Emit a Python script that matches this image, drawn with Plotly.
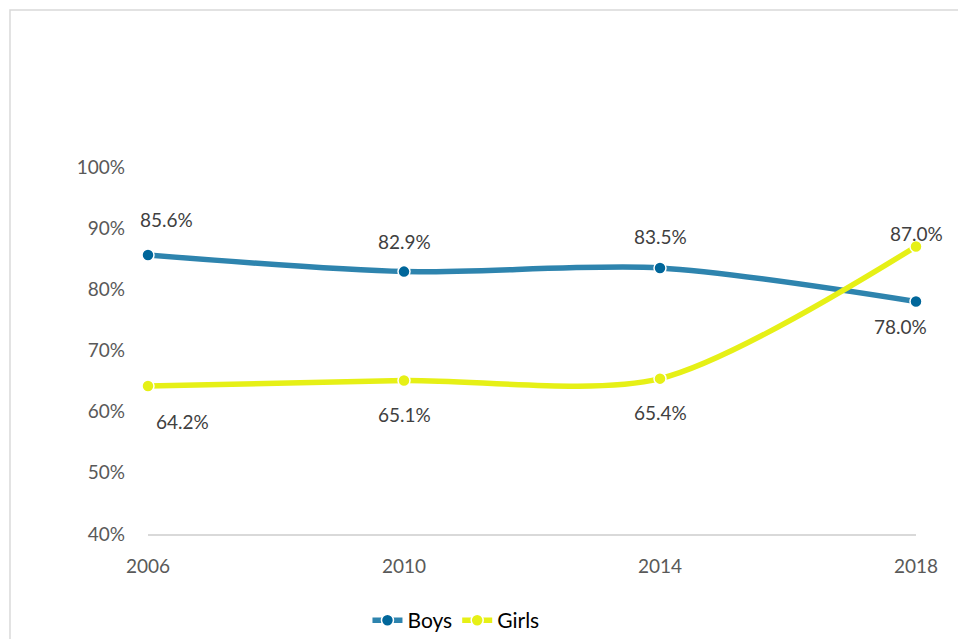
import plotly.graph_objects as go

years = [2006, 2010, 2014, 2018]
boys = [0.856, 0.829, 0.835, 0.780]
girls = [0.642, 0.651, 0.654, 0.870]
series_names = ["Boys", "Girls"]
y_ticks = [0.4, 0.5, 0.6, 0.7, 0.8, 0.9, 1.0]
y_tick_labels = ["40%", "50%", "60%", "70%", "80%", "90%", "100%"]

boys_line = "#2E84AE"
boys_marker = "#00669A"
girls_line = "#E6F016"
girls_marker = "#E6F016"

# label offsets (pixels) for each point: (xshift, yshift)
boys_offsets = [(18, 36), (0, 30), (0, 31), (-16, -25)]
girls_offsets = [(34, -36), (0, -34), (0, -34), (0, 13)]

font_family = "Lato, 'Open Sans', sans-serif"

fig = go.Figure()
fig.add_trace(go.Scatter(
    x=years, y=boys, name=series_names[0], mode="lines+markers",
    line=dict(color=boys_line, width=5.5, shape="spline", smoothing=0.8),
    marker=dict(color=boys_marker, size=12, line=dict(color="white", width=1.5)),
    cliponaxis=False,
))
fig.add_trace(go.Scatter(
    x=years, y=girls, name=series_names[1], mode="lines+markers",
    line=dict(color=girls_line, width=5.5, shape="spline", smoothing=0.8),
    marker=dict(color=girls_marker, size=12, line=dict(color="white", width=1.5)),
    cliponaxis=False,
))

annotations = []
for vals, offs in ((boys, boys_offsets), (girls, girls_offsets)):
    for x, v, (dx, dy) in zip(years, vals, offs):
        annotations.append(dict(
            x=x, y=v, text=f"{v*100:.1f}%", showarrow=False,
            xshift=dx, yshift=dy,
            font=dict(family=font_family, size=19, color="#404040"),
        ))

fig.update_layout(
    width=958, height=639,
    margin=dict(l=148, r=42, t=167, b=105, autoexpand=False),
    paper_bgcolor="white", plot_bgcolor="white",
    font=dict(family=font_family, size=19, color="#595959"),
    annotations=annotations,
    showlegend=True,
    legend=dict(orientation="h", x=0.401, xanchor="center", y=-0.18, yanchor="top",
                font=dict(size=21, color="#000000"), itemwidth=30,
                tracegroupgap=0),
    shapes=[dict(type="rect", xref="paper", yref="paper",
                 x0=-0.1797, x1=1.2, y0=-0.4, y1=1.4278,
                 line=dict(color="#D9D9D9", width=1.5), fillcolor="rgba(0,0,0,0)",
                 layer="below")],
)
fig.update_xaxes(
    range=[2006, 2018], tickmode="array", tickvals=years,
    ticktext=[str(y) for y in years],
    showgrid=False, zeroline=False,
    showline=True, linecolor="#D9D9D9", linewidth=1.5,
    ticks="", ticklabelstandoff=14,
)
fig.update_yaxes(
    range=[0.4, 1.0], tickmode="array", tickvals=y_ticks, ticktext=y_tick_labels,
    showgrid=False, zeroline=False, showline=False, ticks="",
    ticklabelstandoff=22,
)

fig.write_html(
    "out.html",
    config={"displayModeBar": False},
    post_script="document.body.style.margin='0';document.body.style.overflow='hidden';",
)
